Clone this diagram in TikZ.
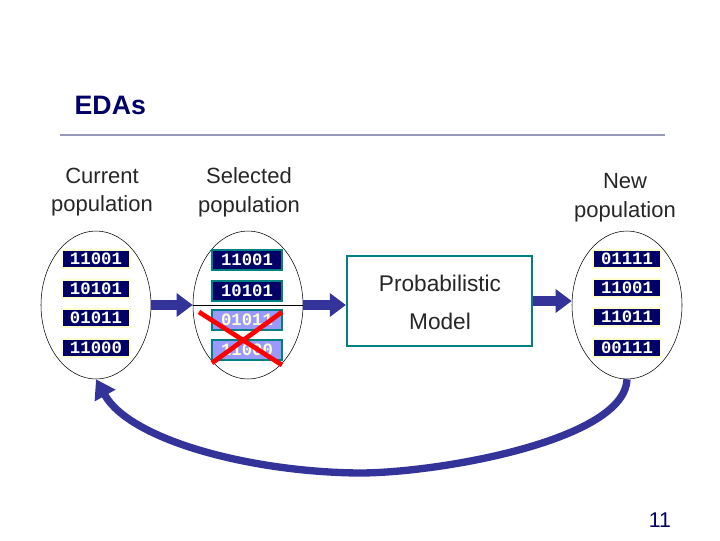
\documentclass[tikz,border=0pt]{standalone}
\usepackage{fontspec}
\setmainfont{Liberation Sans}
\newfontfamily\monof{Liberation Mono}
\usetikzlibrary{shapes.geometric,arrows.meta}
\definecolor{navy}{RGB}{0,0,102}
\definecolor{arr}{RGB}{51,51,153}
\definecolor{teal2}{RGB}{0,128,128}
\definecolor{ylw}{RGB}{255,255,204}
\definecolor{lblue}{RGB}{153,153,255}
\definecolor{rule}{RGB}{153,153,187}
\begin{document}
\begin{tikzpicture}[x=0.75pt,y=-0.75pt,
 bit/.style={draw=ylw,line width=1.5pt,fill=navy,text=white,font=\monof\bfseries\fontsize{13}{14}\selectfont,minimum width=68*0.75pt,minimum height=18*0.75pt,inner sep=0pt},
 sel/.style={bit,draw=teal2,minimum width=70*0.75pt,minimum height=20*0.75pt},
 bad/.style={sel,fill=lblue,text=ylw},
 pop/.style={draw,ellipse,minimum width=110*0.75pt,minimum height=148*0.75pt,inner sep=0pt},
 lab/.style={align=center,font=\fontsize{16.5}{21.5}\selectfont,text=black!85},
 fat/.style={-{Triangle[length=12pt,width=17pt]},arr,line width=8pt}]
\useasboundingbox (0,0) rectangle (720,540);
\node[font=\bfseries\fontsize{20}{22}\selectfont,text=navy,anchor=west] (t) at (70,105) {EDAs};
\draw[rule,line width=2.2pt] (60,135) -- (665,135);
\node[lab] (l1) at (102,192) {Current\\population};
\node[lab] (l2) at (249,192) {Selected\\population};
\node[lab] (l3) at (625,198) {New\\population};
\node[pop] (e1) at (96,305) {};
\node[pop] (e2) at (248,305) {};
\node[pop] (e3) at (627,305) {};
\node[bit] (a1) at (96,259) {11001};
\node[bit] (a2) at (96,289) {10101};
\node[bit] (a3) at (96,318) {01011};
\node[bit] (a4) at (96,348) {11000};
\node[sel] (b1) at (247,260) {11001};
\node[sel] (b2) at (247,291) {10101};
\node[bad] (b3) at (247,320) {01011};
\node[bad] (b4) at (247,350) {11000};
\draw (e2.west) -- (e2.east);
\draw[red,line width=3.5pt] (199,312) -- (282,365) (282,312) -- (212,363);
\node[bit] (c1) at (627,259) {01111};
\node[bit] (c2) at (627,288) {11001};
\node[bit] (c3) at (627,317) {11011};
\node[bit] (c4) at (627,348) {00111};
\node[draw=teal2,line width=1.6pt,minimum width=185*0.75pt,minimum height=90*0.75pt] (m) at (439.5,301) {};
\node[font=\fontsize{17}{19}\selectfont,text=black!85] (p1) at (440,283) {Probabilistic};
\node[font=\fontsize{17}{19}\selectfont,text=black!85] (p2) at (440,321) {Model};
\draw[fat] (e1.east) -- (e1.east -| e2.west);
\draw[fat] (e2.east) -- (e2.east -| m.west);
\draw[fat] (m.east) -- (m.east -| e3.west);
\draw[arr,line width=5.5pt,-{Triangle[length=14pt,width=17pt]}] (e3.south) .. controls (625,440) and (440,473) .. (359,473) .. controls (250,472) and (130,440) .. (e1.south);
\node[font=\fontsize{16}{18}\selectfont,text=navy] (n) at (660,520) {11};
\end{tikzpicture}
\end{document}
